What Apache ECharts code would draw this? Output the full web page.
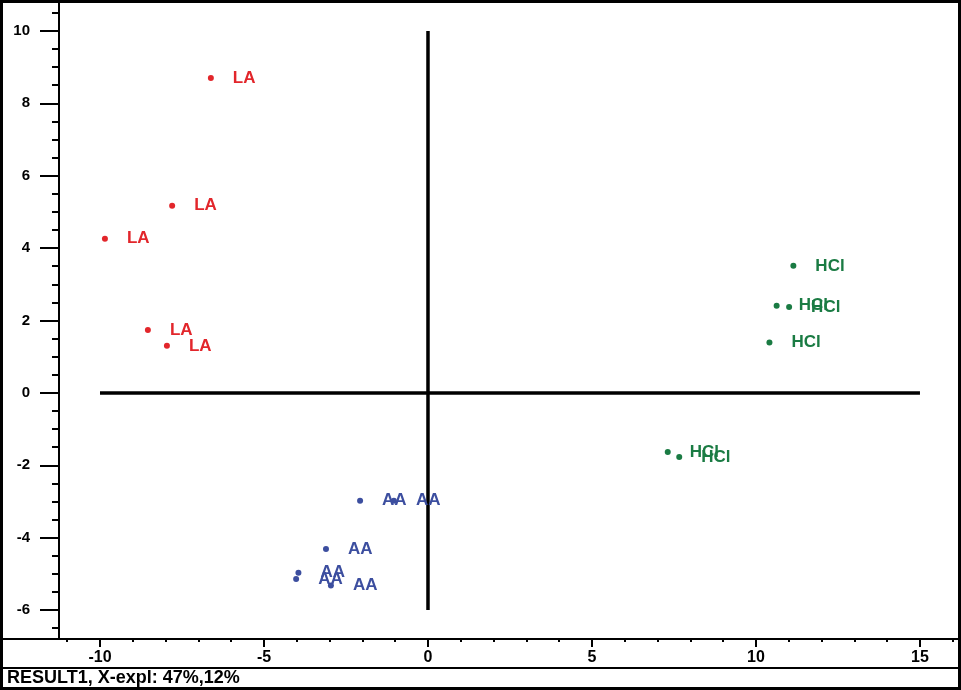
<!DOCTYPE html>
<html>
<head>
<meta charset="utf-8">
<title>RESULT1</title>
<script src="https://cdn.jsdelivr.net/npm/echarts@6/dist/echarts.min.js"></script>
<style>
  html, body { margin: 0; padding: 0; background: #fff; }
  #main { width: 961px; height: 690px; }
</style>
</head>
<body>
<div id="main"></div>
<script>
// 散点数据 (x, y)
var laPoints = [[-6.62, 8.70], [-7.80, 5.17], [-9.85, 4.26], [-8.54, 1.74], [-7.96, 1.30]]
var aaPoints = [[-2.07, -2.98], [-1.04, -2.98], [-3.11, -4.31], [-3.95, -4.97], [-4.02, -5.14], [-2.96, -5.32]]
var hclPoints = [[11.14, 3.51], [10.63, 2.41], [11.01, 2.37], [10.41, 1.39], [7.31, -1.63], [7.66, -1.77]]

var groupNames = ['LA', 'AA', 'HCl']
var groupColors = ['#e2262b', '#3c4e9f', '#1a7b43']

// 坐标轴刻度
var xTicks = [-10, -5, 0, 5, 10, 15]
var xMinorTicks = [-11, -9, -8, -7, -6, -4, -3, -2, -1, 1, 2, 3, 4, 6, 7, 8, 9, 11, 12, 13, 14, 16]
var yTicks = [-6, -4, -2, 0, 2, 4, 6, 8, 10]
var yMinorTicks = [-6.5, -5.5, -5, -4.5, -3.5, -3, -2.5, -1.5, -1, -0.5, 0.5, 1, 1.5, 2.5, 3, 3.5,
  4.5, 5, 5.5, 6.5, 7, 7.5, 8.5, 9, 9.5, 10.5]

// 十字线
var hLine = [[-10, 0], [15, 0]]
var vLine = [[0, 10], [0, -6]]

var footerText = 'RESULT1, X-expl: 47%,12%'

var font = 'Liberation Sans, Arial, sans-serif'

function scatterSeries (name, data, color) {
  return {
    name: name,
    type: 'scatter',
    data: data,
    symbolSize: 6,
    itemStyle: { color: color, opacity: 1 },
    label: {
      show: true,
      position: 'right',
      distance: 19,
      formatter: name,
      color: color,
      fontSize: 17,
      fontWeight: 'bold',
      fontFamily: font,
      offset: [1, 2]
    },
    labelLayout: { hideOverlap: false },
    z: 3
  }
}

function crossLine (data) {
  return {
    type: 'line',
    data: data,
    symbol: 'none',
    silent: true,
    lineStyle: { color: '#000', width: 3.5 },
    z: 2
  }
}

var myChart = echarts.init(document.getElementById('main'))
myChart.setOption({
  animation: false,
  title: {
    text: footerText,
    left: 7,
    top: 670,
    padding: 0,
    textStyle: { fontSize: 18, fontWeight: 'bold', fontFamily: font, color: '#000', lineHeight: 17 }
  },
  grid: { left: 59, right: 2, top: 2, bottom: 51, containLabel: false },
  xAxis: [{
    type: 'value',
    min: -11.25,
    max: 16.19,
    position: 'bottom',
    axisLine: { onZero: false, lineStyle: { color: '#000', width: 2 } },
    axisTick: { customValues: xTicks, length: 8, lineStyle: { color: '#000', width: 2 } },
    axisLabel: { customValues: xTicks, margin: 11, fontSize: 16, fontWeight: 'bold', fontFamily: font, color: '#000' },
    splitLine: { show: false }
  }, {
    type: 'value',
    min: -11.25,
    max: 16.19,
    position: 'bottom',
    axisLine: { onZero: false, lineStyle: { color: '#000', width: 2 } },
    axisTick: { customValues: xMinorTicks, length: 3, lineStyle: { color: '#000', width: 2 } },
    axisLabel: { show: false },
    splitLine: { show: false }
  }],
  yAxis: [{
    type: 'value',
    min: -6.8,
    max: 10.8,
    position: 'left',
    axisLine: { onZero: false, lineStyle: { color: '#000', width: 2 } },
    axisTick: { customValues: yTicks, length: 19, lineStyle: { color: '#000', width: 2 } },
    axisLabel: { customValues: yTicks, margin: 29, fontSize: 15, fontWeight: 'bold', fontFamily: font, color: '#000' },
    splitLine: { show: false }
  }, {
    type: 'value',
    min: -6.8,
    max: 10.8,
    position: 'left',
    axisLine: { onZero: false, lineStyle: { color: '#000', width: 2 } },
    axisTick: { customValues: yMinorTicks, length: 7, lineStyle: { color: '#000', width: 2 } },
    axisLabel: { show: false },
    splitLine: { show: false }
  }],
  series: [
    crossLine(hLine),
    crossLine(vLine),
    scatterSeries(groupNames[0], laPoints, groupColors[0]),
    scatterSeries(groupNames[1], aaPoints, groupColors[1]),
    scatterSeries(groupNames[2], hclPoints, groupColors[2])
  ],
  graphic: [
    // 外框
    { type: 'rect', shape: { x: 1.5, y: 1.5, width: 958, height: 687 }, style: { fill: null, stroke: '#000', lineWidth: 3 }, silent: true },
    // x轴线延长到左边框
    { type: 'line', shape: { x1: 0, y1: 639, x2: 59, y2: 639 }, style: { stroke: '#000', lineWidth: 2 }, silent: true },
    // 底部分隔线
    { type: 'line', shape: { x1: 0, y1: 668, x2: 961, y2: 668 }, style: { stroke: '#000', lineWidth: 2 }, silent: true }
  ]
})
</script>
</body>
</html>
